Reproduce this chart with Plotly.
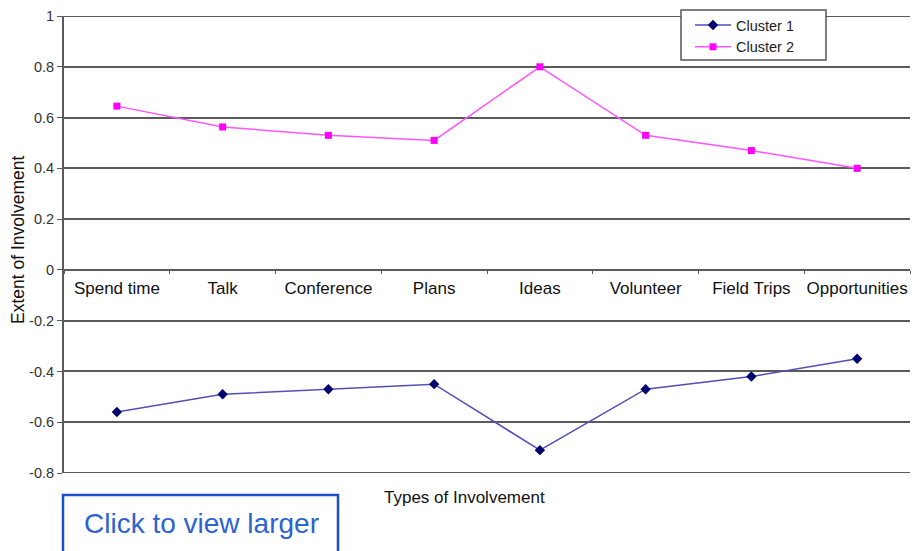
import plotly.graph_objects as go

categories = ["Spend time", "Talk", "Conference", "Plans", "Ideas",
              "Volunteer", "Field Trips", "Opportunities"]
cluster1 = [-0.56, -0.49, -0.47, -0.45, -0.71, -0.47, -0.42, -0.35]
cluster2 = [0.645, 0.563, 0.53, 0.51, 0.80, 0.53, 0.47, 0.40]
y_ticks = [1, 0.8, 0.6, 0.4, 0.2, 0, -0.2, -0.4, -0.6, -0.8]
y_tick_text = ["1", "0.8", "0.6", "0.4", "0.2", "0", "-0.2", "-0.4", "-0.6", "-0.8"]

Y_MIN, Y_MAX = -0.8, 1.0
W, H = 915, 551
ML, MR, MT, MB = 64, 5, 16, 78
PW, PH = W - ML - MR, H - MT - MB

FONT = "Liberation Sans, Arial, sans-serif"
GRID = "#5a5a5a"


def px_x(p):
    return (p - ML) / PW


def px_y(p):
    return (H - MB - p) / PH


fig = go.Figure()
fig.add_trace(go.Scatter(
    x=categories, y=cluster1, name="Cluster 1", mode="lines+markers",
    line=dict(color="#5050b8", width=1.5),
    marker=dict(symbol="diamond", size=8, color="#000070"),
))
fig.add_trace(go.Scatter(
    x=categories, y=cluster2, name="Cluster 2", mode="lines+markers",
    line=dict(color="#ff55ff", width=1.5),
    marker=dict(symbol="square", size=7, color="#ff00ff"),
))

fig.update_layout(
    width=W, height=H,
    margin=dict(l=ML, r=MR, t=MT, b=MB, autoexpand=False),
    paper_bgcolor="white", plot_bgcolor="white",
    font=dict(family=FONT, color="#222"),
    showlegend=True,
    legend=dict(
        x=px_x(690), y=px_y(9), xanchor="left", yanchor="top",
        bgcolor="rgba(0,0,0,0)", borderwidth=0,
        font=dict(size=14.5, color="#222"),
        tracegroupgap=0, itemwidth=36,
    ),
    xaxis=dict(
        type="category", range=[-0.5, len(categories) - 0.5],
        anchor="free", position=(0 - Y_MIN) / (Y_MAX - Y_MIN),
        showline=True, linecolor=GRID, linewidth=2,
        ticks="outside", ticklen=3, tickcolor=GRID, tickson="boundaries",
        ticklabelstandoff=3,
        showgrid=False, zeroline=False, tickangle=0, automargin=False,
        tickfont=dict(size=17, color="#111"),
    ),
    yaxis=dict(
        range=[Y_MIN, Y_MAX], tickvals=y_ticks, ticktext=y_tick_text,
        showline=True, linecolor=GRID, linewidth=2,
        ticks="outside", ticklen=5, tickcolor=GRID,
        showgrid=True, gridcolor=GRID, gridwidth=2,
        zeroline=False, automargin=False,
        tickfont=dict(size=14.5, color="#333"),
    ),
)

# gridlines at the two ends of the value range
for yv in (Y_MIN, Y_MAX):
    fig.add_shape(
        type="line", xref="paper", yref="y", x0=0, x1=1, y0=yv, y1=yv,
        line=dict(color=GRID, width=2), layer="below",
    )

# legend frame
fig.add_shape(
    type="rect", xref="paper", yref="paper",
    x0=px_x(681), x1=px_x(826), y0=px_y(60), y1=px_y(10),
    line=dict(color="#555", width=1.5), fillcolor="white", layer="above",
)

# axis titles
fig.add_annotation(
    text="Types of Involvement", xref="paper", yref="paper",
    x=px_x(464), y=px_y(497), showarrow=False,
    font=dict(size=17, color="#111"), xanchor="center", yanchor="middle",
)
fig.add_annotation(
    text="Extent of Involvement", xref="paper", yref="paper",
    x=px_x(18), y=px_y(240), showarrow=False, textangle=-90,
    font=dict(size=17.5, color="#111"), xanchor="center", yanchor="middle",
)

# "Click to view larger" button
fig.add_shape(
    type="rect", xref="paper", yref="paper",
    x0=px_x(63), x1=px_x(338), y0=px_y(556), y1=px_y(495),
    line=dict(color="#1f4fd0", width=2.5), fillcolor="white", layer="above",
)
fig.add_annotation(
    text="Click to view larger", xref="paper", yref="paper",
    x=px_x(201), y=px_y(523), showarrow=False,
    font=dict(size=28, color="#2d63cf"), xanchor="center", yanchor="middle",
)

fig.write_html("out.html")
